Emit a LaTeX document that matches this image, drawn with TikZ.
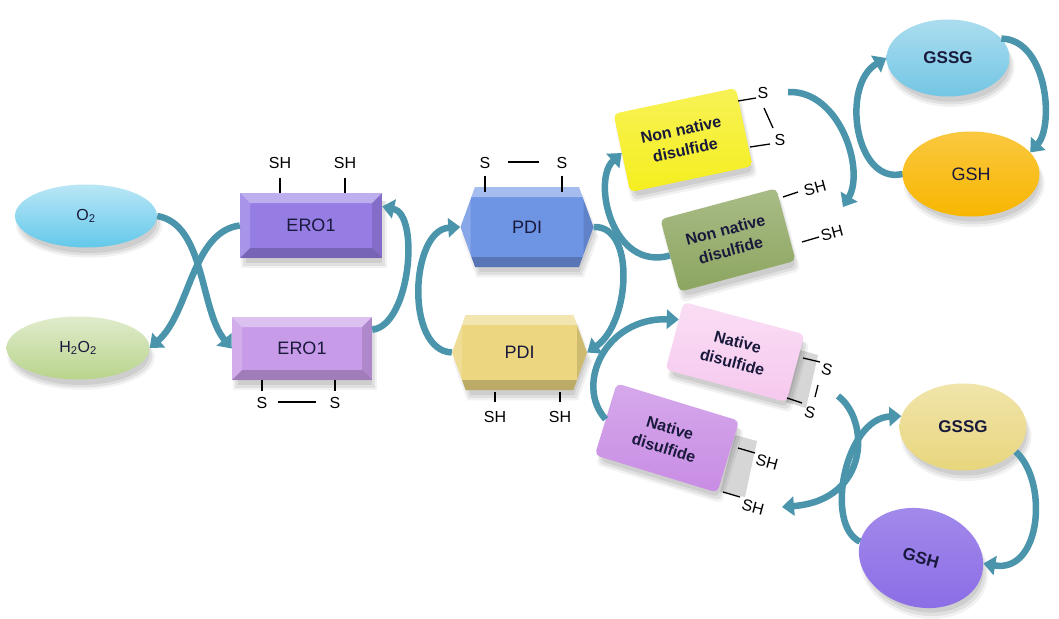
\documentclass[tikz,border=0pt]{standalone}
\usepackage{fontspec}
\setmainfont{Liberation Sans}
\usetikzlibrary{shapes.geometric,shapes.symbols,arrows.meta,shadows,calc}
\definecolor{o2c}{RGB}{100,200,234}
\definecolor{h2o2c}{RGB}{185,212,140}
\definecolor{erotc}{RGB}{150,125,228}
\definecolor{erobc}{RGB}{200,155,232}
\definecolor{pditc}{RGB}{110,148,228}
\definecolor{pdibc}{RGB}{236,214,128}
\definecolor{yelc}{RGB}{245,238,30}
\definecolor{grnc}{RGB}{140,165,95}
\definecolor{pnkc}{RGB}{246,200,238}
\definecolor{purc}{RGB}{200,140,228}
\definecolor{gsAc}{RGB}{115,198,228}
\definecolor{ghAc}{RGB}{248,182,0}
\definecolor{gsBc}{RGB}{232,214,125}
\definecolor{ghBc}{RGB}{140,110,230}
\definecolor{arrc}{RGB}{74,148,172}
\definecolor{txtc}{RGB}{25,25,60}
\tikzset{
 softshadow/.style={
   general shadow={shadow xshift=3pt,shadow yshift=-9pt,shadow scale=1.03,fill=black,opacity=.05},
   general shadow={shadow xshift=3pt,shadow yshift=-8pt,fill=black,opacity=.07},
   general shadow={shadow xshift=3pt,shadow yshift=-7pt,shadow scale=.96,fill=black,opacity=.08}},
 oval/.style={ellipse, inner sep=0pt, softshadow, text=txtc},
 rbox/.style={rectangle, inner sep=0pt, softshadow, text=txtc, font=\fontsize{18}{20}\selectfont},
 hexa/.style={signal, signal to=east and west, signal pointer angle=140, inner sep=0pt, softshadow, text=txtc, font=\fontsize{18}{20}\selectfont},
 dbox/.style={rectangle, rounded corners=5pt, inner sep=0pt, softshadow, align=center, text=txtc, font=\bfseries\fontsize{16}{21}\selectfont},
 lab/.style={inner sep=0pt, text=black, font=\fontsize{16}{18}\selectfont},
 bond/.style={line width=1.3pt, black},
 arr/.style={draw=arrc, line width=6.5pt, -{Triangle[length=12pt,width=19pt]}},
 bevel/.style={path picture={
  \fill[white,opacity=.38] (path picture bounding box.north west) -- (path picture bounding box.north east) -- ([shift={(-10pt,-10pt)}]path picture bounding box.north east) -- ([shift={(10pt,-10pt)}]path picture bounding box.north west) -- cycle;
  \fill[white,opacity=.18] (path picture bounding box.north west) -- ([shift={(10pt,-10pt)}]path picture bounding box.north west) -- ([shift={(10pt,10pt)}]path picture bounding box.south west) -- (path picture bounding box.south west) -- cycle;
  \fill[black,opacity=.12] (path picture bounding box.north east) -- ([shift={(-10pt,-10pt)}]path picture bounding box.north east) -- ([shift={(-10pt,10pt)}]path picture bounding box.south east) -- (path picture bounding box.south east) -- cycle;
  \fill[black,opacity=.2] (path picture bounding box.south west) -- ([shift={(10pt,10pt)}]path picture bounding box.south west) -- ([shift={(-10pt,10pt)}]path picture bounding box.south east) -- (path picture bounding box.south east) -- cycle;
 }}
}
\begin{document}
\begin{tikzpicture}[x=1pt,y=-1pt]
\useasboundingbox (0,0) rectangle (1059,618);
\fill[white] (0,0) rectangle (1059,618);

% left ellipses
\node[oval, minimum width=142pt, minimum height=63pt, top color=o2c!45!white, bottom color=o2c, font=\fontsize{16}{18}\selectfont] (o2) at (86,216) {O\textsubscript{2}};
\node[oval, minimum width=143pt, minimum height=63pt, top color=h2o2c!45!white, bottom color=h2o2c, font=\fontsize{16}{18}\selectfont] (h2o2) at (78,348) {H\textsubscript{2}O\textsubscript{2}};

% ERO1
\node[rbox, bevel, fill=erotc, minimum width=142pt, minimum height=65pt] (ero1t) at (311,225.5) {ERO1};
\node[rbox, bevel, fill=erobc, minimum width=140pt, minimum height=63pt] (ero1b) at (302,348.5) {ERO1};

% PDI
\node[hexa, bevel, fill=pditc, minimum width=133pt, minimum height=80pt] (pdit) at (527,227) {PDI};
\node[hexa, bevel, fill=pdibc, minimum width=135pt, minimum height=75pt] (pdib) at (519.5,352.5) {PDI};

% grey side faces
\fill[gray!32] (800,350) -- (818,355) -- (806,408) -- (786,402) -- cycle;
\fill[gray!32] (735,435) -- (757,441) -- (745,497) -- (720,492) -- cycle;

% disulfide boxes
\node[dbox, rotate=12, minimum width=125pt, minimum height=80pt, top color=yelc!75!white, bottom color=yelc] (yel) at (683,140) {Non native\\disulfide};
\node[dbox, rotate=15, minimum width=120pt, minimum height=75pt, top color=grnc!75!white, bottom color=grnc] (grn) at (728,240) {Non native\\disulfide};
\node[dbox, rotate=-15, minimum width=125pt, minimum height=70pt, top color=pnkc!60!white, bottom color=pnkc] (pnk) at (735,352) {Native\\disulfide};
\node[dbox, rotate=-17, minimum width=128pt, minimum height=75pt, top color=purc!75!white, bottom color=purc] (pur) at (667,438) {Native\\disulfide};

% glutathione ellipses
\node[oval, minimum width=123pt, minimum height=77pt, top color=gsAc!60!white, bottom color=gsAc, font=\bfseries\fontsize{17}{19}\selectfont] (gsA) at (948,58) {GSSG};
\node[oval, minimum width=137pt, minimum height=85pt, top color=ghAc!75!white, bottom color=ghAc, font=\fontsize{18}{20}\selectfont] (ghA) at (971,174) {GSH};
\node[oval, minimum width=127pt, minimum height=87pt, top color=gsBc!65!white, bottom color=gsBc, font=\bfseries\fontsize{17}{19}\selectfont] (gsB) at (963,427) {GSSG};
\node[oval, rotate=-15, minimum width=126pt, minimum height=98pt, top color=ghBc!80!white, bottom color=ghBc, font=\bfseries\fontsize{17}{19}\selectfont] (ghB) at (921,558) {GSH};

% labels and bonds: ERO1
\node[lab] (sh1) at (280,163) {SH};
\node[lab] (sh2) at (345,163) {SH};
\draw[bond] ($(sh1.south)+(0,9)$) -- (sh1.south |- ero1t.north);
\draw[bond] ($(sh2.south)+(0,9)$) -- (sh2.south |- ero1t.north);
\node[lab] (s1) at (262,403) {S};
\node[lab] (s2) at (335,403) {S};
\draw[bond] (s1.north |- ero1b.south) -- ($(s1.north)+(0,-6)$);
\draw[bond] (s2.north |- ero1b.south) -- ($(s2.north)+(0,-6)$);
\draw[bond] ($(s1.east)+(10,-1)$) -- ($(s2.west)+(-13,-1)$);

% labels and bonds: PDI
\node[lab] (pS1) at (485,163) {S};
\node[lab] (pS2) at (562,163) {S};
\draw[bond] ($(pS1.south)+(0,7)$) -- ($(pS1.south |- pdit.north)+(0,5)$);
\draw[bond] ($(pS2.south)+(0,7)$) -- ($(pS2.south |- pdit.north)+(0,5)$);
\draw[bond] ($(pS1.east)+(17,-1)$) -- ($(pS2.west)+(-17,-1)$);
\node[lab] (pSH1) at (495,417) {SH};
\node[lab] (pSH2) at (560,417) {SH};
\draw[bond] ($(pSH1.north |- pdib.south)+(0,2)$) -- ($(pSH1.north)+(0,-9)$);
\draw[bond] ($(pSH2.north |- pdib.south)+(0,2)$) -- ($(pSH2.north)+(0,-9)$);

% yellow box S-S
\node[lab] (yS1) at (763,93) {S};
\node[lab] (yS2) at (780,140) {S};
\draw[bond] ($(yS1.center)+(-7,5)$) -- +(-18,3);
\draw[bond] ($(yS2.center)+(-10,4)$) -- +(-20,3);
\draw[bond] ($(yS1.center)+(1,15)$) -- ($(yS2.center)+(-7,-12)$);

% green box SH
\node[lab, rotate=15] (gSH1) at (815,188) {SH};
\node[lab, rotate=15] (gSH2) at (832,233) {SH};
\draw[bond] ($(gSH1.center)+(-17,4)$) -- +(-15,5);
\draw[bond] ($(gSH2.center)+(-13,4)$) -- +(-17,5);

% pink box S-S
\node[lab, rotate=-15] (kS1) at (827,370) {S};
\node[lab, rotate=-15] (kS2) at (810,413) {S};
\draw[bond] ($(kS1.center)+(-7,-8)$) -- +(-17,-4);
\draw[bond] ($(kS2.center)+(-8,-10)$) -- +(-15,-5);
\draw[bond] ($(kS1.center)+(-9,15)$) -- ($(kS2.center)+(5,-16)$);

% purple box SH
\node[lab, rotate=-15] (uSH1) at (767,462) {SH};
\node[lab, rotate=-15] (uSH2) at (753,507) {SH};
\draw[bond] ($(uSH1.center)+(-12,-9)$) -- +(-17,-5);
\draw[bond] ($(uSH2.center)+(-13,-10)$) -- +(-17,-5);

% free arrow ends
\coordinate (a8s) at (788,92);
\coordinate (a8e) at (843,207);
\coordinate (a11s) at (838,396);
\coordinate (a11e) at (782,507);

% arrows
\draw[arr] (o2.east) .. controls +(48,8) and +(-32,-38) .. (ero1b.west);
\draw[arr] (ero1t.west) .. controls +(-48,6) and +(40,-35) .. (h2o2.east);
\draw[arr] (ero1b.15) .. controls +(38,-4) and +(38,8) .. (ero1t.15);
\draw[arr] (pdib.west) .. controls +(-47,-2) and +(-50,3) .. (pdit.west);
\draw[arr] (pdit.east) .. controls +(42,-2) and +(43,-30) .. (pdib.east);
\draw[arr] (grn.west) .. controls +(-58,16) and +(-30,27) .. (yel.west);
\draw[arr] (pur.west) .. controls +(-31,-34) and +(-74,-2) .. (pnk.165);
\draw[arr] (a8s) .. controls +(52,-2) and +(22,-37) .. (a8e);
\draw[arr] (ghA.west) .. controls +(-47,11) and +(-46,27) .. (gsA.west);
\draw[arr] (gsA.20) .. controls +(46,1) and +(24,-27) .. (ghA.20);
\draw[arr] (a11s) .. controls +(32,24) and +(88,-7) .. (a11e);
\draw[arr] (ghB.west) .. controls +(-36,-17) and +(-56,2) .. (gsB.170);
\draw[arr] (gsB.-25) .. controls +(33,30) and +(58,10) .. (ghB.10);
\end{tikzpicture}
\end{document}
